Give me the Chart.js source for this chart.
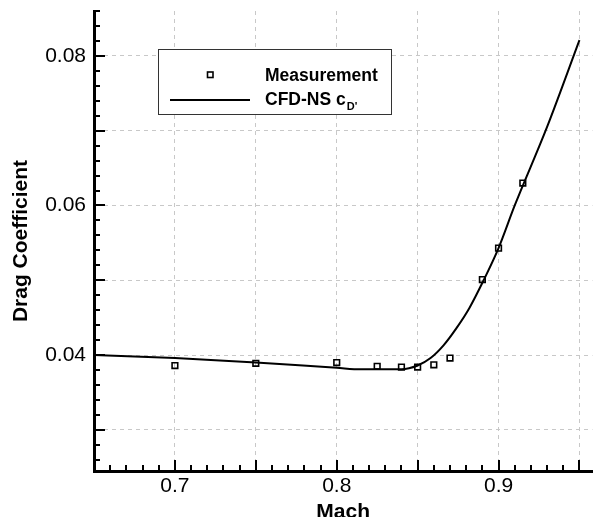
<!DOCTYPE html>
<html>
<head>
<meta charset="utf-8">
<script src="https://cdn.jsdelivr.net/npm/chart.js@4"></script>
<style>
  html, body { margin: 0; padding: 0; background: #fff; overflow: hidden; }
  canvas { display: block; }
</style>
</head>
<body>
<canvas id="chart" width="598" height="517"></canvas>
<script>
// Wind tunnel measurement points
const measMach = [0.70, 0.75, 0.80, 0.825, 0.84, 0.85, 0.86, 0.87, 0.89, 0.90, 0.915]
const measCd = [0.0386, 0.0389, 0.0390, 0.0385, 0.0384, 0.0384, 0.0387, 0.0396, 0.0501, 0.0543, 0.0630]

// CFD curve
const cfdMach = [0.65, 0.70, 0.75, 0.80, 0.815, 0.84, 0.85, 0.858, 0.866, 0.874, 0.882, 0.891, 0.90, 0.91, 0.93, 0.95]
const cfdCd = [0.0400, 0.0396, 0.0390, 0.0383, 0.0381, 0.0381, 0.0386, 0.0396, 0.0413, 0.0436, 0.0463, 0.0501, 0.0543, 0.0600, 0.0705, 0.0821]

// axis ticks
const xLabels = [0.7, 0.8, 0.9]
const yLabels = [0.04, 0.06, 0.08]
const xMajorStep = 0.05
const xMinorStep = 0.01
const yMajorStep = 0.01
const yMinorStep = 0.002

const FONT = '"Liberation Sans", Arial, sans-serif'

const toPoints = (xs, ys) => xs.map((x, i) => ({ x: x, y: ys[i] }))

// is v a multiple of step (float safe)
const onStep = (v, step) => {
    const r = v / step
    return Math.abs(r - Math.round(r)) < 1e-6
}
const inList = (v, list) => list.some(l => Math.abs(l - v) < 1e-9)

// ticks every minor step between min and max
const buildTicks = (scale, step) => {
    const ticks = []
    const start = Math.ceil(scale.min / step - 1e-9)
    const end = Math.floor(scale.max / step + 1e-9)
    for (let i = start; i <= end; i++) {
        ticks.push({ value: +(i * step).toFixed(6) })
    }
    scale.ticks = ticks
}

// tecplot style ticks pointing into the plot
const innerTicks = {
    id: 'innerTicks',
    afterDatasetsDraw(chart) {
        const ctx = chart.ctx
        const area = chart.chartArea
        const xs = chart.scales.x
        const ys = chart.scales.y
        ctx.save()
        ctx.strokeStyle = '#000'
        ctx.lineWidth = 2
        ctx.beginPath()
        xs.ticks.forEach(t => {
            const px = Math.round(xs.getPixelForValue(t.value))
            const len = onStep(t.value, xMajorStep) ? 11 : 6
            ctx.moveTo(px, area.bottom)
            ctx.lineTo(px, area.bottom - len)
        })
        ys.ticks.forEach(t => {
            const py = Math.round(ys.getPixelForValue(t.value))
            const len = onStep(t.value, yMajorStep) ? 11 : 6
            ctx.moveTo(area.left, py)
            ctx.lineTo(area.left + len, py)
        })
        ctx.stroke()
        ctx.restore()
    }
}

// boxed legend inside the plot
const boxLegend = {
    id: 'boxLegend',
    afterDraw(chart) {
        const ctx = chart.ctx
        const bx = 158, by = 49, bw = 233, bh = 65
        ctx.save()
        ctx.fillStyle = '#fff'
        ctx.fillRect(bx, by, bw, bh)
        ctx.strokeStyle = '#333'
        ctx.lineWidth = 1
        ctx.strokeRect(bx + 0.5, by + 0.5, bw, bh)

        // marker
        ctx.strokeStyle = '#000'
        ctx.lineWidth = 1.6
        ctx.strokeRect(207.5, 72, 5.5, 5.5)
        // line sample
        ctx.lineWidth = 2
        ctx.beginPath()
        ctx.moveTo(170, 100)
        ctx.lineTo(250, 100)
        ctx.stroke()

        ctx.fillStyle = '#000'
        ctx.textBaseline = 'middle'
        ctx.font = 'bold 17.5px ' + FONT
        ctx.fillText('Measurement', 265, 76)
        ctx.fillText('CFD-NS c', 265, 100)
        const w = ctx.measureText('CFD-NS c').width
        ctx.font = 'bold 11px ' + FONT
        ctx.fillText("D'", 265 + w + 1, 107)
        ctx.restore()
    }
}

const gridColor = (ctx, step) => onStep(ctx.tick.value, step) ? '#c8c8c8' : 'rgba(0,0,0,0)'

new Chart(document.getElementById('chart'), {
    type: 'scatter',
    data: {
        datasets: [
            {
                label: 'Measurement',
                data: toPoints(measMach, measCd),
                pointStyle: 'rect',
                pointRadius: 4,
                borderColor: '#000',
                backgroundColor: 'rgba(0,0,0,0)',
                borderWidth: 1.6,
                order: 1
            },
            {
                label: "CFD-NS cD'",
                data: toPoints(cfdMach, cfdCd),
                showLine: true,
                pointRadius: 0,
                borderColor: '#000',
                borderWidth: 2,
                cubicInterpolationMode: 'monotone',
                order: 2
            }
        ]
    },
    options: {
        responsive: false,
        animation: false,
        layout: { padding: { top: 11, right: 0, left: 0, bottom: 0 } },
        plugins: {
            legend: { display: false },
            tooltip: { enabled: false }
        },
        scales: {
            x: {
                type: 'linear',
                min: 0.65,
                max: 0.958,
                afterBuildTicks: s => buildTicks(s, xMinorStep),
                afterFit: s => { s.height = 46; s.paddingLeft = 0; s.paddingRight = 0 },
                ticks: {
                    autoSkip: false,
                    maxRotation: 0,
                    padding: 3,
                    color: '#000',
                    font: { family: FONT, size: 21 },
                    callback: v => inList(v, xLabels) ? v.toFixed(1) : ''
                },
                grid: {
                    drawTicks: false,
                    lineWidth: 1,
                    color: ctx => gridColor(ctx, xMajorStep)
                },
                border: { display: true, color: '#000', width: 3, dash: [4, 4] },
                title: {
                    display: true,
                    text: 'Mach',
                    color: '#000',
                    font: { family: FONT, size: 21, weight: 'bold', lineHeight: 1 },
                    padding: { top: 0, bottom: -6 }
                }
            },
            y: {
                type: 'linear',
                min: 0.0245,
                max: 0.086,
                afterBuildTicks: s => buildTicks(s, yMinorStep),
                afterFit: s => { s.width = 94; s.paddingTop = 0; s.paddingBottom = 0 },
                ticks: {
                    autoSkip: false,
                    padding: 8,
                    color: '#000',
                    font: { family: FONT, size: 21 },
                    callback: v => inList(v, yLabels) ? v.toFixed(2) : ''
                },
                grid: {
                    drawTicks: false,
                    lineWidth: 1,
                    color: ctx => gridColor(ctx, yMajorStep)
                },
                border: { display: true, color: '#000', width: 3, dash: [4, 4] },
                title: {
                    display: true,
                    text: 'Drag Coefficient',
                    color: '#000',
                    font: { family: FONT, size: 21, weight: 'bold', lineHeight: 1.2 },
                    padding: { top: 9, bottom: 0 }
                }
            }
        }
    },
    plugins: [innerTicks, boxLegend]
})
</script>
</body>
</html>
